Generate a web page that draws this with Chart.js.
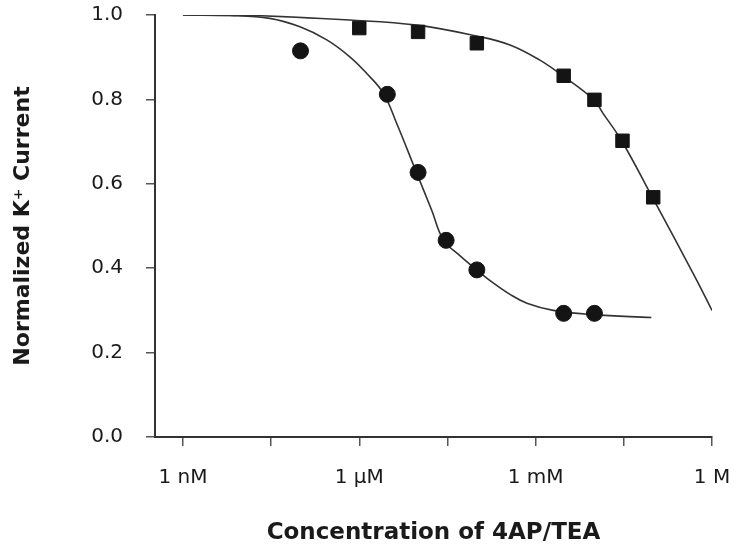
<!DOCTYPE html>
<html>
<head>
<meta charset="utf-8">
<script src="https://cdn.jsdelivr.net/npm/chart.js@4"></script>
<style>
  body { margin: 0; background: #fff; }
  #wrap { width: 740px; height: 547px; position: relative; }
</style>
</head>
<body>
<div id="wrap"><canvas id="chart"></canvas></div>
<script>
// concentrations in M
const circleConc = [1e-7, 3e-6, 1e-5, 3e-5, 1e-4, 3e-3, 1e-2]
const circleVals = [0.915, 0.812, 0.627, 0.466, 0.396, 0.293, 0.293]

const squareConc = [1e-6, 1e-5, 1e-4, 3e-3, 1e-2, 3e-2, 1e-1]
const squareVals = [0.969, 0.96, 0.933, 0.856, 0.799, 0.702, 0.568]

// fitted curves
const circleFitConc = [1e-9, 6.3e-9, 3e-8, 9.8e-8, 2.8e-7, 6.9e-7, 1.33e-6, 2.56e-6, 4.3e-6, 9.5e-6, 1.7e-5, 2.7e-5, 5.2e-5, 9.9e-5, 1.9e-4, 3.66e-4, 7.1e-4, 2e-3, 9.3e-3, 9.3e-2]
const circleFitVals = [1.0, 0.999, 0.992, 0.972, 0.941, 0.901, 0.862, 0.815, 0.744, 0.625, 0.538, 0.467, 0.429, 0.396, 0.365, 0.338, 0.317, 0.3, 0.29, 0.283]

const squareFitConc = [1e-9, 1.4e-8, 6.9e-7, 9.5e-6, 1e-4, 3.66e-4, 1.18e-3, 2.75e-3, 9.8e-3, 1.4e-2, 2.9e-2, 9.6e-2, 0.51, 1.0]
const squareFitVals = [1.0, 0.999, 0.988, 0.976, 0.95, 0.929, 0.893, 0.858, 0.799, 0.767, 0.702, 0.569, 0.38, 0.3]

const xTickValues = [1e-9, 3.16e-8, 1e-6, 3.16e-5, 1e-3, 3.16e-2, 1]
const xTickLabels = ['1 nM', '', '1 \u03bcM', '', '1 mM', '', '1 M']

function toPoints(xs, ys) {
  return xs.map((x, i) => ({ x: x, y: ys[i] }))
}

const ink = '#141414'
const lineInk = '#333'

new Chart(document.getElementById('chart'), {
  type: 'scatter',
  data: {
    datasets: [
      {
        label: 'circles',
        data: toPoints(circleConc, circleVals),
        pointStyle: 'circle',
        pointRadius: 8,
        backgroundColor: ink,
        borderColor: ink,
        borderWidth: 1,
        order: 0,
      },
      {
        label: 'squares',
        data: toPoints(squareConc, squareVals),
        pointStyle: 'rect',
        pointRadius: 9.5,
        backgroundColor: ink,
        borderColor: ink,
        borderWidth: 1,
        order: 0,
      },
      {
        label: 'circle fit',
        data: toPoints(circleFitConc, circleFitVals),
        showLine: true,
        pointRadius: 0,
        borderColor: lineInk,
        borderWidth: 1.6,
        tension: 0.4,
        order: 1,
      },
      {
        label: 'square fit',
        data: toPoints(squareFitConc, squareFitVals),
        showLine: true,
        pointRadius: 0,
        borderColor: lineInk,
        borderWidth: 1.6,
        tension: 0.4,
        order: 1,
      },
    ],
  },
  options: {
    responsive: true,
    maintainAspectRatio: false,
    animation: false,
    layout: { padding: { top: 15, right: 28, left: 0, bottom: 0 } },
    plugins: {
      legend: { display: false },
      tooltip: { enabled: false },
    },
    scales: {
      x: {
        type: 'logarithmic',
        min: 3.35e-10,
        max: 1,
        afterBuildTicks: (scale) => {
          scale.ticks = xTickValues.map((v) => ({ value: v }))
        },
        afterFit: (scale) => {
          scale.height = 110
          scale.paddingLeft = 0
          scale.paddingRight = 0
        },
        ticks: {
          autoSkip: false,
          maxRotation: 0,
          padding: 20,
          color: '#1a1a1a',
          font: { family: 'DejaVu Sans', size: 20 },
          callback: (value, index) => xTickLabels[index],
        },
        grid: {
          drawOnChartArea: false,
          tickLength: 9,
          color: '#555',
          lineWidth: 1.5,
        },
        border: { display: true, color: '#333', width: 2 },
        title: {
          display: true,
          text: 'Concentration of 4AP/TEA',
          color: '#1a1a1a',
          font: { family: 'DejaVu Sans', size: 23, weight: 'bold' },
          padding: { top: 0, bottom: 0 },
        },
      },
      y: {
        min: 0,
        max: 1,
        afterFit: (scale) => {
          scale.width = 155
          scale.paddingTop = 0
          scale.paddingBottom = 0
        },
        ticks: {
          stepSize: 0.2,
          padding: 23,
          color: '#1a1a1a',
          font: { family: 'DejaVu Sans', size: 20 },
          callback: (value) => value.toFixed(1),
        },
        grid: {
          drawOnChartArea: false,
          tickLength: 9,
          color: '#555',
          lineWidth: 1.5,
        },
        border: { display: true, color: '#333', width: 2 },
        title: {
          display: true,
          text: 'Normalized K\u207a Current',
          color: '#1a1a1a',
          font: { family: 'DejaVu Sans', size: 22, weight: 'bold' },
          padding: { top: 10, bottom: 0 },
        },
      },
    },
  },
})
</script>
</body>
</html>
